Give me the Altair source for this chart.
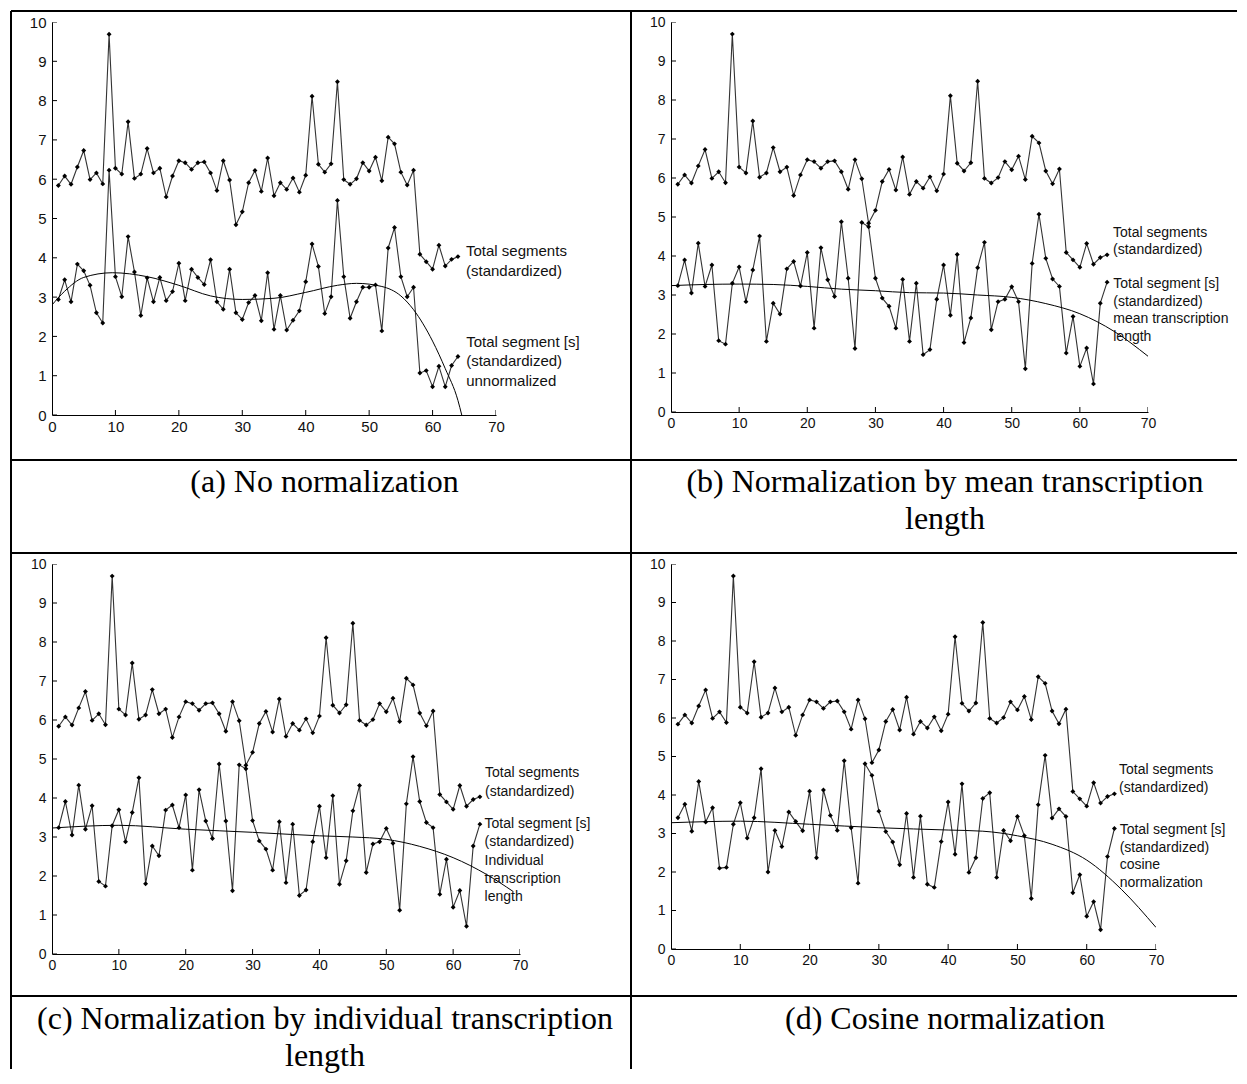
import altair as alt
import pandas as pd

# ---------------- data ----------------
idx = list(range(1, 65))

total_segments = [5.84, 6.08, 5.87, 6.31, 6.73, 5.99, 6.16, 5.88, 9.69, 6.28,
                  6.13, 7.46, 6.02, 6.13, 6.78, 6.16, 6.28, 5.55, 6.08, 6.47,
                  6.42, 6.25, 6.42, 6.44, 6.16, 5.71, 6.47, 5.98, 4.84, 5.17,
                  5.91, 6.22, 5.69, 6.54, 5.58, 5.91, 5.74, 6.03, 5.67, 6.10,
                  8.11, 6.38, 6.18, 6.39, 8.48, 5.99, 5.87, 6.01, 6.42, 6.21,
                  6.56, 5.96, 7.07, 6.90, 6.18, 5.85, 6.23, 4.09, 3.90, 3.71,
                  4.32, 3.79, 3.96, 4.03]

seg_a = [2.94, 3.44, 2.88, 3.84, 3.67, 3.30, 2.60, 2.34, 6.23, 3.52,
         3.01, 4.54, 3.64, 2.53, 3.49, 2.88, 3.50, 2.91, 3.14, 3.86,
         2.91, 3.71, 3.50, 3.32, 3.95, 2.88, 2.69, 3.71, 2.60, 2.43,
         2.86, 3.04, 2.40, 3.62, 2.18, 3.04, 2.16, 2.41, 2.65, 3.39,
         4.35, 3.78, 2.58, 3.01, 5.46, 3.52, 2.46, 2.88, 3.25, 3.25,
         3.31, 2.14, 4.25, 4.77, 3.52, 3.01, 3.25, 1.07, 1.13, 0.72,
         1.24, 0.72, 1.26, 1.49]

seg_b = [3.24, 3.90, 3.05, 4.33, 3.22, 3.77, 1.83, 1.74, 3.30, 3.72,
         2.83, 3.64, 4.51, 1.81, 2.79, 2.51, 3.67, 3.86, 3.23, 4.09,
         2.15, 4.21, 3.39, 2.96, 4.88, 3.43, 1.63, 4.86, 4.75, 3.43,
         2.92, 2.71, 2.15, 3.40, 1.81, 3.30, 1.47, 1.60, 2.89, 3.77,
         2.48, 4.04, 1.78, 2.41, 3.70, 4.35, 2.11, 2.83, 2.89, 3.21,
         2.83, 1.11, 3.81, 5.07, 3.94, 3.41, 3.22, 1.51, 2.45, 1.17,
         1.64, 0.72, 2.79, 3.33]

seg_c = [3.24, 3.91, 3.05, 4.33, 3.20, 3.80, 1.86, 1.74, 3.29, 3.70,
         2.88, 3.63, 4.52, 1.80, 2.77, 2.52, 3.69, 3.82, 3.24, 4.08,
         2.15, 4.21, 3.41, 2.96, 4.87, 3.41, 1.62, 4.85, 4.75, 3.42,
         2.90, 2.69, 2.15, 3.39, 1.83, 3.33, 1.50, 1.64, 2.88, 3.79,
         2.47, 4.06, 1.79, 2.39, 3.67, 4.32, 2.09, 2.82, 2.88, 3.22,
         2.84, 1.12, 3.85, 5.06, 3.91, 3.37, 3.24, 1.53, 2.43, 1.20,
         1.63, 0.71, 2.77, 3.33]

seg_d = [3.41, 3.76, 3.06, 4.35, 3.30, 3.67, 2.10, 2.12, 3.24, 3.80,
         2.88, 3.41, 4.68, 2.00, 3.08, 2.66, 3.56, 3.31, 3.07, 4.10,
         2.37, 4.13, 3.47, 3.08, 4.89, 3.15, 1.71, 4.81, 4.51, 3.58,
         3.05, 2.78, 2.19, 3.52, 1.86, 3.45, 1.68, 1.60, 2.79, 3.82,
         2.46, 4.29, 1.99, 2.37, 3.91, 4.06, 1.86, 3.08, 2.81, 3.44,
         2.94, 1.31, 3.75, 5.03, 3.40, 3.64, 3.44, 1.46, 1.93, 0.85,
         1.23, 0.50, 2.40, 3.13]

# fitted trend curves
trend_a_x = [0, 2, 5, 9.5, 15, 20, 25, 30, 35, 40, 45, 48, 52, 55, 57, 60, 62, 64, 64.6]
trend_a_y = [2.8, 3.15, 3.5, 3.62, 3.52, 3.3, 3.03, 2.94, 2.97, 3.12, 3.3, 3.35, 3.27, 3.03, 2.68, 1.88, 1.18, 0.37, 0.0]
trend_b_x = [0, 5, 10, 15, 20, 25, 30, 35, 40, 45, 50, 55, 60, 65, 70]
trend_b_y = [3.24, 3.27, 3.28, 3.27, 3.22, 3.15, 3.11, 3.06, 3.05, 3.0, 2.94, 2.78, 2.52, 2.07, 1.43]
trend_c_x = [0, 10, 20, 30, 40, 45, 50, 55, 60, 65, 69]
trend_c_y = [3.23, 3.3, 3.2, 3.12, 3.03, 3.0, 2.94, 2.76, 2.47, 2.04, 1.6]
trend_d_x = [0, 10, 20, 30, 40, 45, 50, 55, 60, 65, 70]
trend_d_y = [3.28, 3.32, 3.24, 3.15, 3.09, 3.06, 2.94, 2.72, 2.31, 1.55, 0.56]

x_ticks = [0, 10, 20, 30, 40, 50, 60, 70]
y_ticks = [0, 1, 2, 3, 4, 5, 6, 7, 8, 9, 10]

label_top = ["Total segments", "(standardized)"]
label_a = ["Total segment [s]", "(standardized)", "unnormalized"]
label_b = ["Total segment [s]", "(standardized)", "mean transcription", "length"]
label_c = ["Total segment [s]", "(standardized)", "Individual", "transcription", "length"]
label_d = ["Total segment [s]", "(standardized)", "cosine", "normalization"]

caption_a = ["(a) No normalization"]
caption_b = ["(b) Normalization by mean transcription", "length"]
caption_c = ["(c) Normalization by individual transcription", "length"]
caption_d = ["(d) Cosine normalization"]

# ---------------- styling ----------------
SANS = "Liberation Sans"
SERIF = "Liberation Serif"
LINE = "#333333"
one = pd.DataFrame({"k": [0]})


def panel(bottom, tx, ty, w, h, lab2, fs, lh, lab1_xy, lab2_xy):
    xs = alt.Scale(domain=[0, 70], nice=False, zero=False)
    ys = alt.Scale(domain=[0, 10], nice=False, zero=False)
    xax = alt.Axis(values=x_ticks, ticks=False, grid=False, domainColor="black",
                   domainWidth=1, labelFont=SANS, labelFontSize=fs, labelColor="#111",
                   labelPadding=4, labelFlush=False, labelOverlap=False, title="")
    yax = alt.Axis(values=y_ticks, ticks=False, grid=False, domainColor="black",
                   domainWidth=1, labelFont=SANS, labelFontSize=fs, labelColor="#111",
                   labelPadding=6, labelFlush=False, labelOverlap=False, title="")
    X = lambda f: alt.X(f, scale=xs, axis=xax)
    Y = lambda f: alt.Y(f, scale=ys, axis=yax)
    XD = lambda v: alt.XDatum(v, scale=xs, axis=xax, type="quantitative")
    YD = lambda v: alt.YDatum(v, scale=ys, axis=yax, type="quantitative")

    df = pd.DataFrame({"x": idx + idx,
                       "y": total_segments + list(bottom),
                       "series": ["top"] * 64 + ["bottom"] * 64})
    lines = alt.Chart(df).mark_line(color=LINE, strokeWidth=1.1).encode(
        x=X("x:Q"), y=Y("y:Q"), detail="series:N")
    pts = alt.Chart(df).mark_point(shape="diamond", filled=True, color="black",
                                   size=24, opacity=1).encode(
        x=X("x:Q"), y=Y("y:Q"))
    tr = pd.DataFrame({"x": tx, "y": ty})
    trend = alt.Chart(tr).mark_line(color="black", strokeWidth=1, clip=True,
                                    interpolate="monotone").encode(
        x=X("x:Q"), y=Y("y:Q"))
    xt = alt.Chart(pd.DataFrame({"x": x_ticks})).mark_tick(
        orient="vertical", size=10, thickness=1, color="black", clip=True,
        opacity=1).encode(x=X("x:Q"), y=YD(0))
    yt = alt.Chart(pd.DataFrame({"y": y_ticks})).mark_tick(
        orient="horizontal", size=10, thickness=1, color="black", clip=True,
        opacity=1).encode(y=Y("y:Q"), x=XD(0))
    t1 = alt.Chart(one).mark_text(text=label_top, align="left", baseline="middle",
                                  font=SANS, fontSize=fs, lineHeight=lh,
                                  color="#111").encode(
        x=XD(lab1_xy[0]), y=YD(lab1_xy[1]))
    t2 = alt.Chart(one).mark_text(text=lab2, align="left", baseline="middle",
                                  font=SANS, fontSize=fs, lineHeight=lh,
                                  color="#111").encode(
        x=XD(lab2_xy[0]), y=YD(lab2_xy[1]))
    return [lines, trend, pts, xt, yt, t1, t2], (w, h)


def deco():
    layers = []
    # table borders (pixels relative to the first panel's plot origin)
    for yv in [-11, 438, 531, 974]:
        layers.append(alt.Chart(one).mark_rule(color="black", strokeWidth=2).encode(
            x=alt.value(-41), x2=alt.value(1185), y=alt.value(yv)))
    for xv in [-41, 579]:
        layers.append(alt.Chart(one).mark_rule(color="black", strokeWidth=2).encode(
            x=alt.value(xv), y=alt.value(-11), y2=alt.value(1047)))
    caps = [(caption_a, 272.5, 460), (caption_b, 893, 460),
            (caption_c, 273, 997), (caption_d, 893, 997)]
    for txt, cx, cy in caps:
        layers.append(alt.Chart(one).mark_text(
            text=txt, align="center", baseline="middle", font=SERIF,
            fontSize=32, lineHeight=37, color="black").encode(
            x=alt.value(cx), y=alt.value(cy)))
    return layers


la, (wa, ha) = panel(seg_a, trend_a_x, trend_a_y, 444, 393, label_a, 15, 19.5,
                     (65.27, 4.17), (65.3, 1.86))
lb, (wb, hb) = panel(seg_b, trend_b_x, trend_b_y, 477, 390, label_b, 14, 17.5,
                     (64.87, 4.60), (64.9, 3.27))
lc, (wc, hc) = panel(seg_c, trend_c_x, trend_c_y, 468, 390, label_c, 14, 18.3,
                     (64.76, 4.63), (64.7, 3.33))
ld, (wd, hd) = panel(seg_d, trend_d_x, trend_d_y, 485, 385, label_d, 14, 17.5,
                     (64.66, 4.64), (64.75, 3.09))

pa = alt.layer(*(la + deco())).properties(width=wa, height=ha)
pb = alt.layer(*lb).properties(width=wb, height=hb)
pc = alt.layer(*lc).properties(width=wc, height=hc)
pd_ = alt.layer(*ld).properties(width=wd, height=hd)

chart = alt.concat(pa, pb, pc, pd_, columns=2, bounds="flush",
                   spacing={"row": 149, "column": 151}).properties(
    padding={"left": 1, "top": 1, "right": 0, "bottom": 0}
).configure_view(stroke="transparent")

chart.save("out.html", embed_options={"renderer": "svg", "actions": False})
